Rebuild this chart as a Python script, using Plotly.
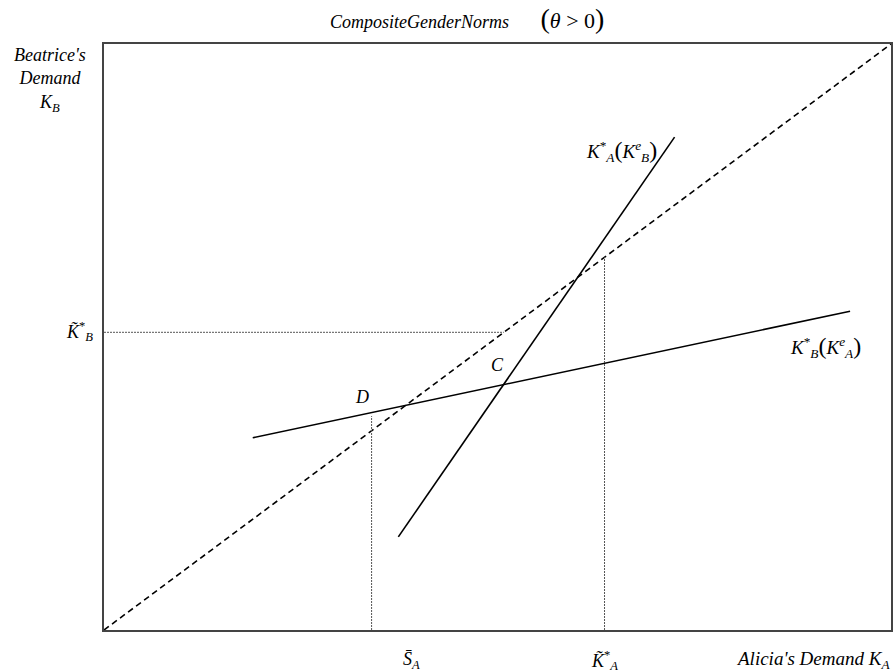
import plotly.graph_objects as go

# ---- data (data units: both axes 0..100) ----
diag_x = [0, 100]
diag_y = [0, 100]
ka_best_x = [37.4, 72.5]     # K_A*(K_B^e)
ka_best_y = [15.9, 84.1]
kb_best_x = [18.9, 94.8]     # K_B*(K_A^e)
kb_best_y = [32.8, 54.4]
kb_tilde = 50.8              # K~_B* level
sa_bar = 34.0                # S-bar_A
sa_top = 36.5
ka_tilde = 63.6              # K~_A* level

FONT = "Liberation Serif"

fig = go.Figure()
fig.add_trace(go.Scatter(x=diag_x, y=diag_y, mode="lines",
                         line=dict(color="black", width=1.6, dash="6px,4px")))
fig.add_trace(go.Scatter(x=ka_best_x, y=ka_best_y, mode="lines",
                         line=dict(color="black", width=1.6)))
fig.add_trace(go.Scatter(x=kb_best_x, y=kb_best_y, mode="lines",
                         line=dict(color="black", width=1.6)))
fig.add_trace(go.Scatter(x=[0, kb_tilde], y=[kb_tilde, kb_tilde], mode="lines",
                         line=dict(color="#555", width=1, dash="2px,1px")))
fig.add_trace(go.Scatter(x=[sa_bar, sa_bar], y=[0, sa_top], mode="lines",
                         line=dict(color="#555", width=1, dash="2px,1px")))
fig.add_trace(go.Scatter(x=[ka_tilde, ka_tilde], y=[0, ka_tilde], mode="lines",
                         line=dict(color="#555", width=1, dash="2px,1px")))

W, H = 895, 672
L, R, T, B = 104, 2, 44, 42
pw, ph = W - L - R, H - T - B

def ann(text, px, py, size=18, xanchor="center", yanchor="middle", align="center"):
    fig.add_annotation(text=text, x=(px - L) / pw, y=(H - B - py) / ph,
                       xref="paper", yref="paper", showarrow=False,
                       font=dict(family=FONT, size=size, color="black"),
                       xanchor=xanchor, yanchor=yanchor, align=align)

def big(s, n=24):
    return '<span style="font-size:%dpx">%s</span>' % (n, s)

ann("<i>CompositeGenderNorms</i>       " + big("(", 28) + big("<i>θ</i> > 0", 22) + big(")", 28), 468, 19, size=18)
ann("<i>Beatrice's</i><br><i>Demand</i><br><i>K</i><sub><i>B</i></sub>", 50, 80, size=18)
ann("<i>K̃</i><sup>*</sup><sub><i>B</i></sub>", 79, 331, size=18)
ann("<i>S̄</i><sub><i>A</i></sub>", 412, 660, size=18)
ann("<i>K̃</i><sup>*</sup><sub><i>A</i></sub>", 606, 660, size=18)
ann("<i>Alicia's Demand K</i><sub><i>A</i></sub>", 894, 660, size=19, xanchor="right")
ann("<i>K</i><sup>*</sup><sub><i>A</i></sub>" + big("(") + "<i>K</i><sup><i>e</i></sup><sub><i>B</i></sub>" + big(")"), 623, 151, size=19)
ann("<i>K</i><sup>*</sup><sub><i>B</i></sub>" + big("(") + "<i>K</i><sup><i>e</i></sup><sub><i>A</i></sub>" + big(")"), 827, 347, size=19)
ann("<i>C</i>", 498, 365, size=18)
ann("<i>D</i>", 363, 397, size=18)

fig.update_layout(
    width=W, height=H,
    margin=dict(l=L, r=R, t=T, b=B, pad=0),
    paper_bgcolor="white", plot_bgcolor="white",
    showlegend=False,
    xaxis=dict(range=[0, 100], showgrid=False, zeroline=False, showticklabels=False,
               ticks="", showline=True, mirror=True, linecolor="#444", linewidth=2),
    yaxis=dict(range=[0, 100], showgrid=False, zeroline=False, showticklabels=False,
               ticks="", showline=True, mirror=True, linecolor="#444", linewidth=2),
)
fig.write_html("out.html", config={"displayModeBar": False},
               post_script="document.body.style.margin='0';document.body.style.padding='0';")
